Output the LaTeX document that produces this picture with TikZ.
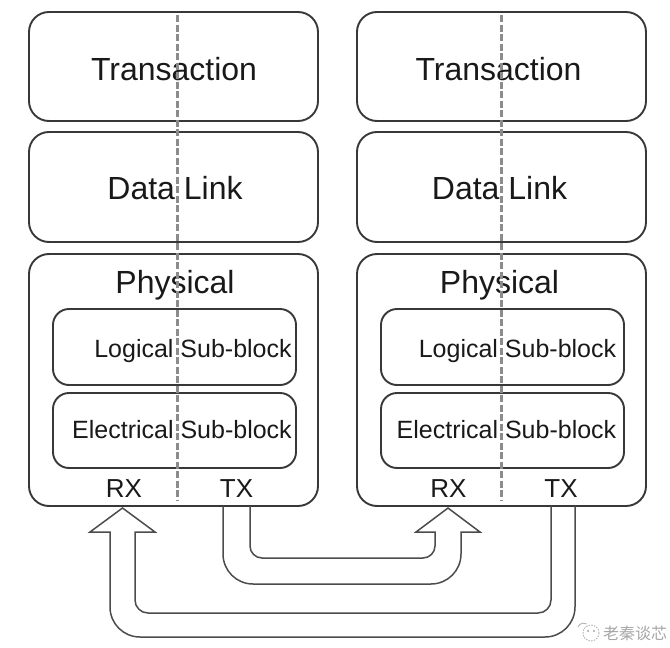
\documentclass[tikz,border=0pt]{standalone}
\usepackage{fontspec}
\setmainfont{Liberation Sans}
\newfontfamily\cjkfont{Noto Sans CJK SC}
\begin{document}
\begin{tikzpicture}[x=1pt,y=-1pt,
  layer/.style={draw=black!78, line width=1.9pt, rounded corners=20pt,
    inner sep=0pt, outer sep=0pt},
  sublayer/.style={draw=black!78, line width=1.9pt, rounded corners=16pt,
    inner sep=0pt, outer sep=0pt},
  bigtxt/.style={font=\fontsize{32}{32}\selectfont, text=black!90,
    anchor=base, inner sep=0pt},
  subtxt/.style={font=\fontsize{25}{25}\selectfont, text=black!90,
    anchor=base, inner sep=0pt},
  porttxt/.style={font=\fontsize{26}{26}\selectfont, text=black!90,
    anchor=base, inner sep=0pt},
  lanesplit/.style={draw=black!45, line width=3pt, dash pattern=on 7pt off 2.5pt},
  blockarrow/.style={draw=black!70, line width=1.5pt, line join=miter},
  wmtext/.style={text=black!35, font=\cjkfont\fontsize{16}{16}\selectfont,
    anchor=west, inner sep=0pt}
]
\useasboundingbox (0,0) rectangle (670,648);

% two protocol stacks: box offset \b, text offset \t
\foreach \s/\b/\t in {L/0/0, R/328/324.5} {
  \node[layer, minimum width=289pt, minimum height=109pt]
    (trans\s) at (173.5+\b, 66.5) {};
  \node[layer, minimum width=289pt, minimum height=110pt]
    (link\s) at (173.5+\b, 187) {};
  \node[layer, minimum width=289pt, minimum height=252pt]
    (phys\s) at (173.5+\b, 380) {};
  \node[sublayer, minimum width=243pt, minimum height=76pt]
    (logic\s) at (175.5+\b-1, 347) {};
  \node[sublayer, minimum width=243pt, minimum height=75pt]
    (elec\s) at (175.5+\b-1, 430.5) {};

  \node[bigtxt] (transT\s) at (174+\t, 80) {Transaction};
  \node[bigtxt] (linkT\s) at (175+\t, 199) {Data Link};
  \node[bigtxt] (physT\s) at (175+\t, 293) {Physical};
  \node[subtxt] (logicT\s) at (193+\t, 357) {Logical Sub-block};
  \node[subtxt] (elecT\s) at (182+\t, 438.5) {Electrical Sub-block};
  \node[porttxt] (rx\s) at (124+\t, 497) {RX};
  \node[porttxt] (tx\s) at (236.5+\t, 497) {TX};

  % RX / TX split through the stack
  \coordinate (splitTop\s) at (177+\t, 15);
  \coordinate (splitBot\s) at (177+\t, 500);
  \draw[lanesplit] (splitTop\s) -- (splitBot\s);
}

% TX of the left stack to RX of the right stack
\draw[blockarrow]
  (223,506) -- (223,554)
  .. controls (223,570.6) and (236.4,584) .. (253,584)
  -- (431,584)
  .. controls (447.6,584) and (461,570.6) .. (461,554)
  -- (461,532) -- (480,532) -- (448,508) -- (416,532) -- (435,532)
  -- (435,546)
  .. controls (435,552.6) and (429.6,558) .. (423,558)
  -- (262,558)
  .. controls (255.4,558) and (250,552.6) .. (250,546)
  -- (250,506);

% TX of the right stack to RX of the left stack
\draw[blockarrow]
  (575,506) -- (575,607)
  .. controls (575,623.6) and (561.6,637) .. (545,637)
  -- (140,637)
  .. controls (123.4,637) and (110,623.6) .. (110,607)
  -- (110,532) -- (90,532) -- (122.5,508) -- (155,532) -- (135,532)
  -- (135,600)
  .. controls (135,607.2) and (140.8,613) .. (148,613)
  -- (538,613)
  .. controls (545.2,613) and (551,607.2) .. (551,600)
  -- (551,506);

% account mark
\draw[black!30, line width=0.9pt, dash pattern=on 1.5pt off 1.2pt]
  (591,633) circle[radius=8];
\draw[black!30, line width=0.9pt] (578,627) arc[start angle=200, end angle=300, radius=6];
\fill[black!35] (588,631) circle[radius=1.1] (594,631) circle[radius=1.1];
\node[wmtext] (markT) at (603,633) {老秦谈芯};
\end{tikzpicture}
\end{document}
